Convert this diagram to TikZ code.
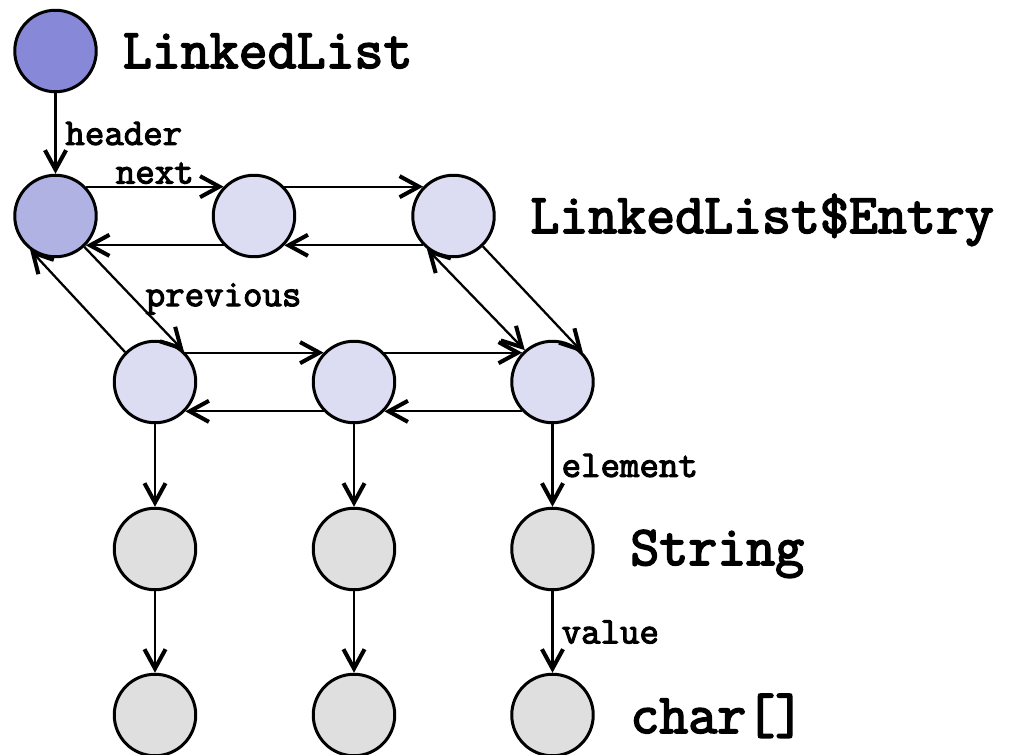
\documentclass[tikz,border=0pt]{standalone}
\usepackage{fontspec}
\newfontfamily\llmono{Latin Modern Mono}[FakeBold=3]
\usepackage{tikz}
\usetikzlibrary{arrows.meta}
\definecolor{llList}{HTML}{8789D8}
\definecolor{llHeader}{HTML}{B0B2E3}
\definecolor{llEntry}{HTML}{DCDCF2}
\definecolor{llData}{HTML}{DFDFDF}
\tikzset{
 >={Straight Barb[length=11pt,width=12pt,line width=2.3pt]},
 ll obj/.style={circle,draw=black,line width=1.7pt,minimum size=1.63cm,
                inner sep=0pt},
 ll list/.style={ll obj,fill=llList},
 ll header/.style={ll obj,fill=llHeader},
 ll entry/.style={ll obj,fill=llEntry},
 ll data/.style={ll obj,fill=llData},
 ll ref/.style={line width=1.3pt,->},
 ll field/.style={font=\llmono\fontsize{21.5}{23}\selectfont,inner sep=1pt},
 ll type/.style={font=\llmono\fontsize{32}{34}\selectfont,
                 inner sep=0pt,anchor=base west}
}

\begin{document}
\begin{tikzpicture}
 \useasboundingbox (0,0) rectangle (20.28,-15.10);
 \node[ll list] (list) at (1.11,-1.02) {};
 \node[ll header] (h) at (1.11,-4.32) {};
 \node[ll entry] (a1) at (5.08,-4.32) {};
 \node[ll entry] (a2) at (9.07,-4.32) {};
 \node[ll entry] (b1) at (3.10,-7.64) {};
 \node[ll entry] (b2) at (7.08,-7.64) {};
 \node[ll entry] (b3) at (11.05,-7.64) {};
 \foreach \i/\x in {1/3.10,2/7.08,3/11.05} {
   \node[ll data] (s\i) at (\x,-10.98) {};
   \node[ll data] (c\i) at (\x,-14.30) {};
 }

 % type names
 \node[ll type] (tList) at (2.45,-1.36) {LinkedList};
 \node[ll type] (tEntry) at (10.60,-4.66) {LinkedList\$Entry};
 \node[ll type] (tString) at (12.60,-11.30) {String};
 \node[ll type] (tChar) at (12.60,-14.66) {char[]};

 % references
 \draw[ll ref] (list)--node[ll field,right,xshift=4pt] {header}(h);
 \draw[ll ref] (h.44)--node[ll field,above] {next}(a1.136);
 \draw[ll ref] (a1.44)--(a2.136);
 \draw[ll ref] (a2.224)--(a1.316);
 \draw[ll ref] (a1.224)--(h.316);
 \draw[ll ref] (b1.44)--(b2.136);
 \draw[ll ref] (b2.44)--(b3.136);
 \draw[ll ref] (b3.224)--(b2.316);
 \draw[ll ref] (b2.224)--(b1.316);
 \draw[ll ref] (b1.135)--(h.233);
 \draw[ll ref] (h.313)--
   node[ll field,pos=.5,anchor=west,xshift=5pt] {previous}(b1.47);
 \draw[ll ref] (a2.314)--(b3.44);
 \draw[ll ref,<->] (a2.231)--(b3.131);
 \foreach \i in {1,2,3} {
   \draw[ll ref] (b\i)--(s\i);
   \draw[ll ref] (s\i)--(c\i);
 }
 \path (b3)--node[ll field,right,xshift=4pt] {element}(s3);
 \path (s3)--node[ll field,right,xshift=4pt] {value}(c3);
\end{tikzpicture}
\end{document}
